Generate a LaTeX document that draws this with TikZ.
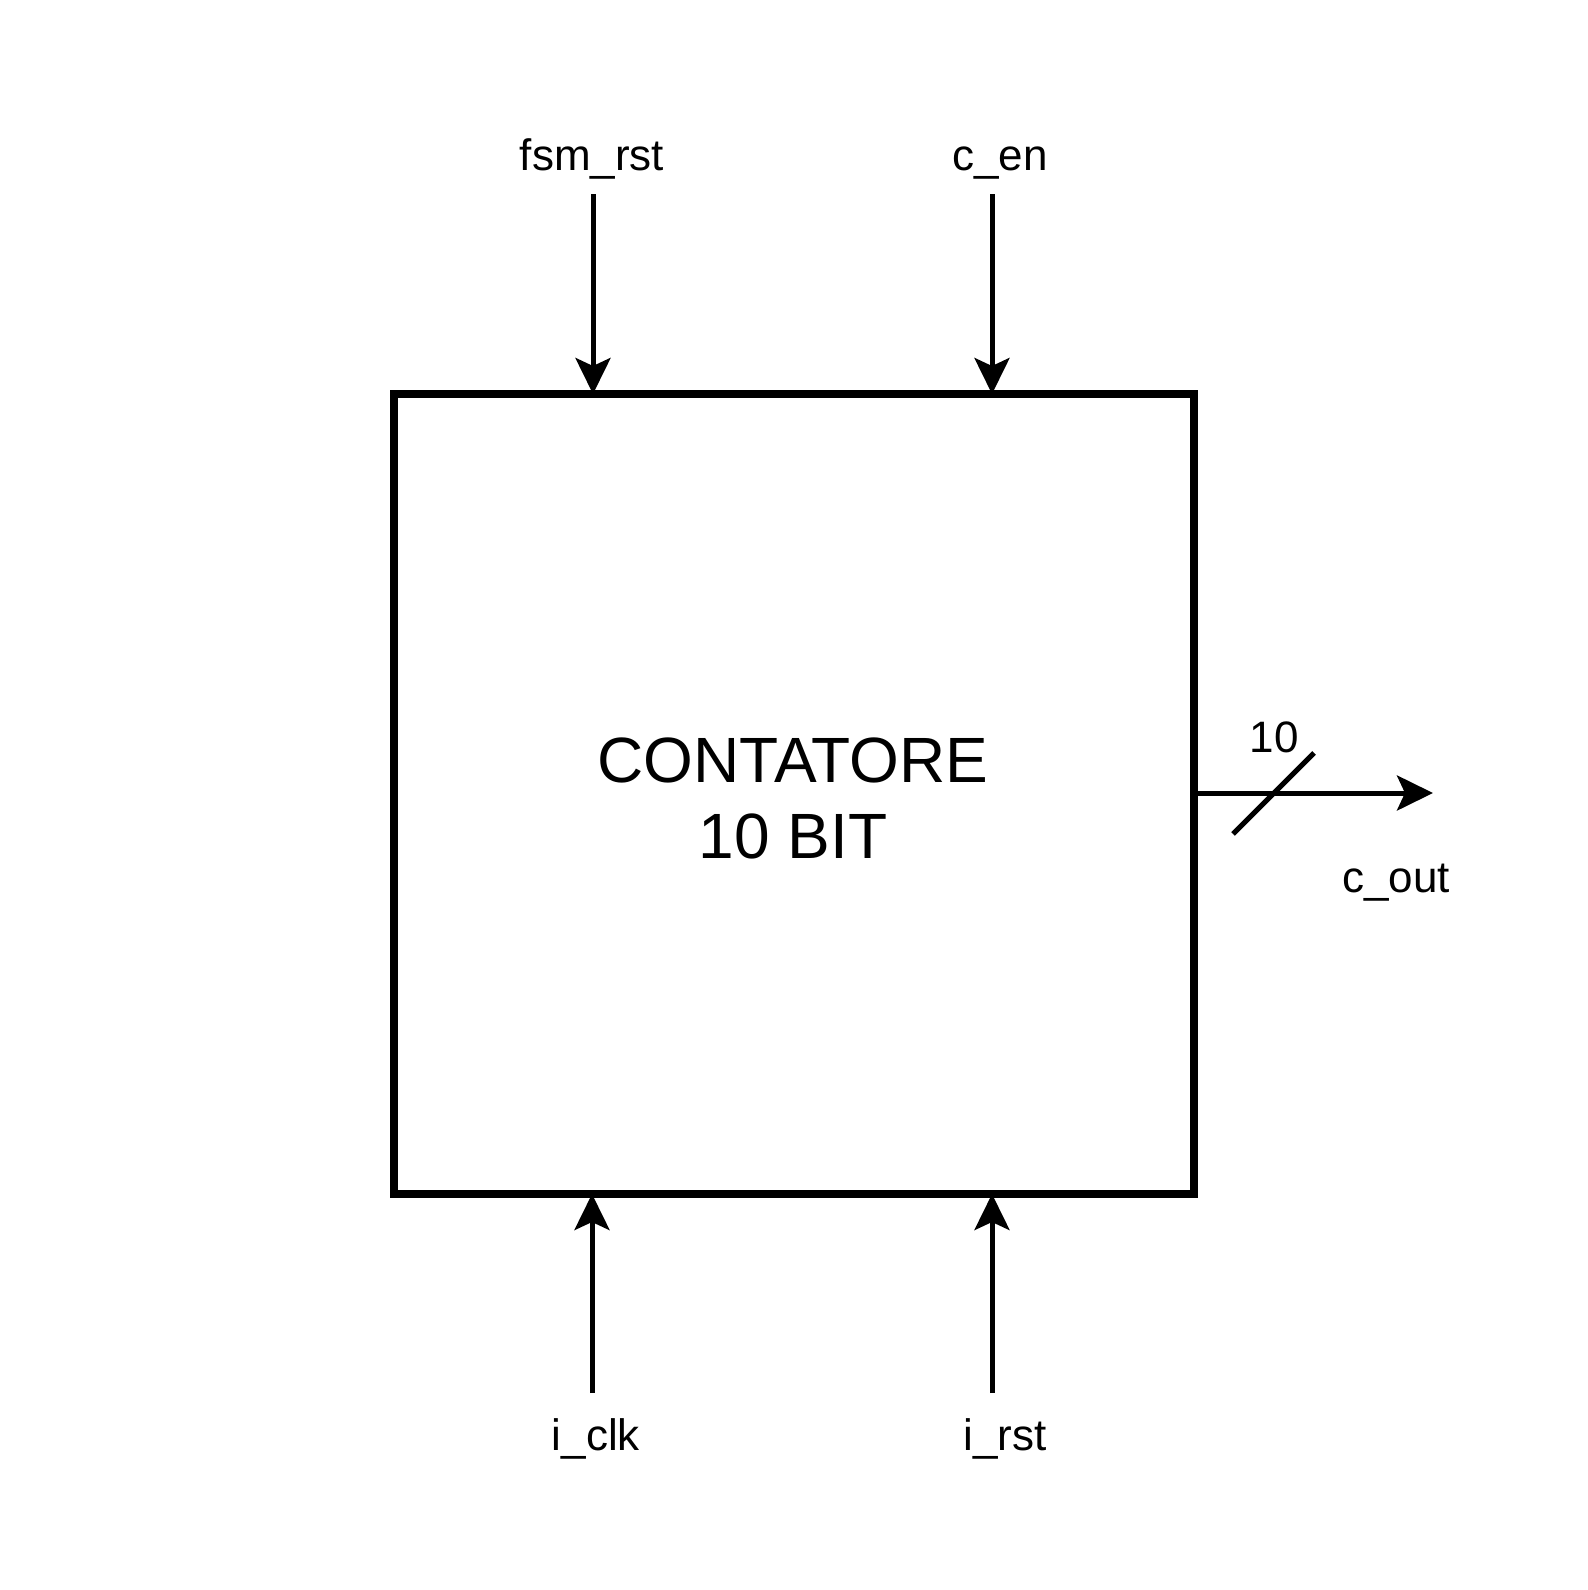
\documentclass[tikz,border=0pt]{standalone}
\usepackage{fontspec}
\setmainfont{Liberation Sans}
\usetikzlibrary{arrows.meta}
\begin{document}
\begin{tikzpicture}[x=0.5pt,y=-0.5pt,
  sig/.style={line width=2.5pt,-{Stealth[length=18pt,width=17.5pt,inset=4pt]}},
  lbl/.style={font=\fontsize{22pt}{26pt}\selectfont,anchor=base,inner sep=0pt},
  blk/.style={draw,line width=4pt,minimum width=400pt,minimum height=400pt,inner sep=0pt,outer sep=0pt}]
\useasboundingbox (0,0) rectangle (1588,1590);
\node[blk] (box) at (794,794) {};
\node[font=\fontsize{32pt}{38pt}\selectfont,align=center,anchor=base,inner sep=0pt] (title) at (793,858) {CONTATORE\\10 BIT};
% labels
\node[lbl] (lfsm) at (592,170) {fsm\_rst};
\node[lbl] (lcen) at (1000,170) {c\_en};
\node[lbl] (lclk) at (596,1450) {i\_clk};
\node[lbl] (lrst) at (1005,1450) {i\_rst};
\node[lbl] (lout) at (1396,892) {c\_out};
\node[lbl] (lten) at (1274,752) {10};
% free ends
\coordinate (sfsm) at (593,194);
\coordinate (scen) at (992,194);
\coordinate (sclk) at (592,1393);
\coordinate (srst) at (992,1393);
\coordinate (eout) at (1433,793);
\coordinate (s1) at (1233,834);
\coordinate (s2) at (1314,753);
% connectors
\draw[sig] (sfsm) -- (sfsm |- box.north);
\draw[sig] (scen) -- (scen |- box.north);
\draw[sig] (sclk) -- (sclk |- box.south);
\draw[sig] (srst) -- (srst |- box.south);
\draw[sig] (eout -| box.east) -- (eout);
\draw[line width=2.5pt] (s1) -- (s2);
\end{tikzpicture}
\end{document}
